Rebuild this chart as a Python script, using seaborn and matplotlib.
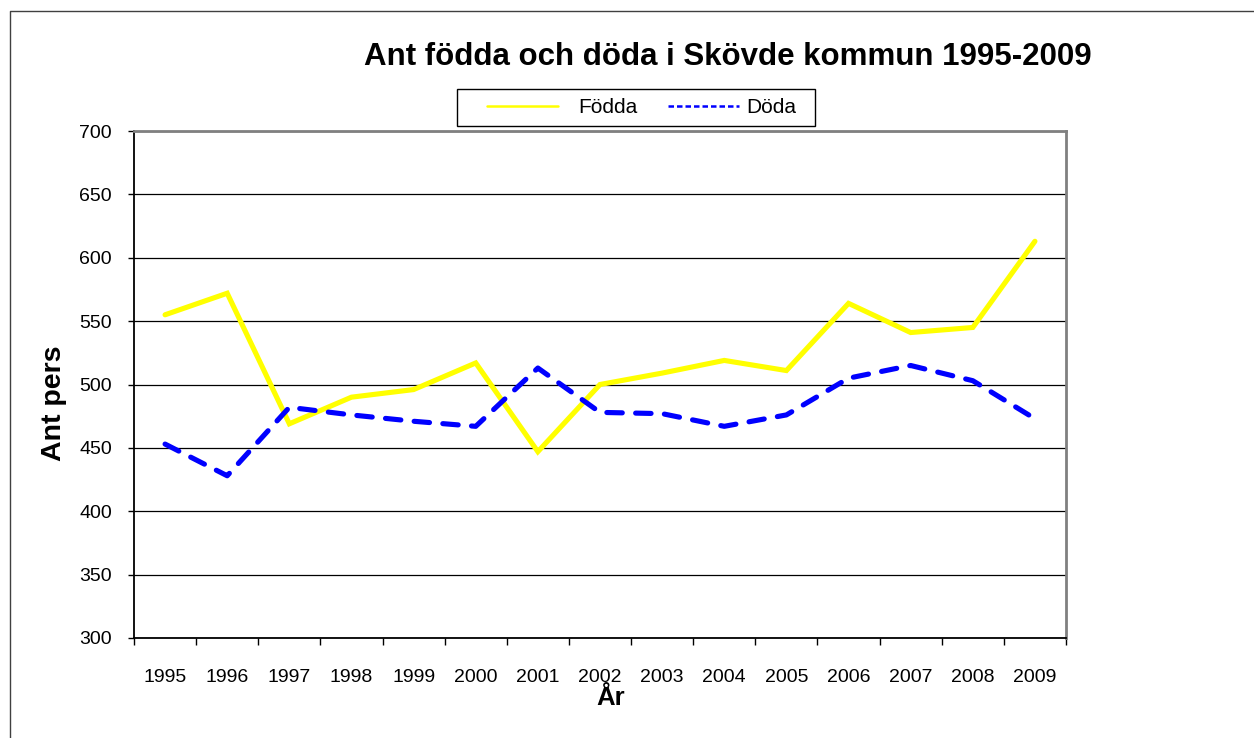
import matplotlib
matplotlib.use("Agg")
import matplotlib.pyplot as plt
from matplotlib.lines import Line2D
from matplotlib.patches import Rectangle
import seaborn as sns
import pandas as pd

years = ["1995", "1996", "1997", "1998", "1999", "2000", "2001", "2002",
         "2003", "2004", "2005", "2006", "2007", "2008", "2009"]
fodda = [555, 572, 469, 490, 496, 517, 447, 500, 509, 519, 511, 564, 541, 545, 613]
doda = [453, 428, 482, 476, 471, 467, 513, 478, 477, 467, 476, 505, 515, 503, 473]
series_names = ["Födda", "Döda"]
yticks = [300, 350, 400, 450, 500, 550, 600, 650, 700]

title = "Ant födda och döda i Skövde kommun 1995-2009"
xlabel = "År"
ylabel = "Ant pers"

df = pd.DataFrame({
    "År": years * 2,
    "Antal": fodda + doda,
    "Serie": [series_names[0]] * len(years) + [series_names[1]] * len(years),
})

sns.set_theme(style="white")
plt.rcParams["font.family"] = ["Liberation Sans", "DejaVu Sans"]

W, H = 1254, 738
fig = plt.figure(figsize=(W / 100, H / 100), dpi=100)
fig.patch.set_facecolor("white")

# outer chart border
fig.add_artist(Line2D([10 / W, 10 / W, 1.0], [0.0, 1 - 11 / H, 1 - 11 / H],
                      transform=fig.transFigure, color="#404040", lw=1.0))

ax = fig.add_axes([134 / W, 1 - 638 / H, 932 / W, 507 / H])
ax.set_facecolor("white")

palette = {"Födda": "#FFFF00", "Döda": "#0000FF"}
dashes = {"Födda": "", "Döda": (3.0, 2.6)}
sns.lineplot(data=df, x="År", y="Antal", hue="Serie", style="Serie",
             palette=palette, dashes=dashes, linewidth=3.7, sort=False,
             legend=False, ax=ax, zorder=3)
for ln in ax.get_lines():
    ln.set_dash_capstyle("round")
    ln.set_solid_capstyle("round")
    ln.set_solid_joinstyle("miter")

n = len(years)
ax.set_xlim(-0.5, n - 0.5)
ax.set_ylim(300, 700)

# y axis
ax.set_yticks(yticks)
ax.set_yticklabels([str(v) for v in yticks])
ax.tick_params(axis="y", which="major", direction="out", length=4, width=1,
               color="black", pad=12, labelsize=14, labelcolor="#000000", left=True)
# x axis: ticks at category boundaries, labels at centres
ax.set_xticks([i - 0.5 for i in range(n + 1)])
ax.set_xticklabels([""] * (n + 1))
ax.set_xticks(list(range(n)), minor=True)
ax.set_xticklabels(years, minor=True)
ax.tick_params(axis="x", which="major", direction="out", length=5, width=1,
               color="black", bottom=True)
ax.tick_params(axis="x", which="minor", length=0, pad=22, labelsize=14,
               labelcolor="#000000", bottom=True)

# gridlines
ax.yaxis.grid(True, color="#000000", lw=0.9, zorder=1)
ax.xaxis.grid(False)
ax.set_axisbelow(True)

for s in ["left", "bottom"]:
    ax.spines[s].set_color("black")
    ax.spines[s].set_linewidth(1.3)
for s in ["top", "right"]:
    ax.spines[s].set_color("#808080")
    ax.spines[s].set_linewidth(2.0)
    ax.spines[s].set_visible(True)

ax.set_xlabel("")
ax.set_ylabel("")

fig.text(54 / W, 1 - 403 / H, ylabel, rotation=90, ha="center", va="center",
         fontsize=20.5, fontweight="bold", color="black")
fig.text(611 / W, 1 - 698 / H, xlabel, ha="center", va="center",
         fontsize=18.5, fontweight="bold", color="black")
fig.text(727.5 / W, 1 - 57 / H, title, ha="center", va="center",
         fontsize=22.5, fontweight="bold", color="black")

# legend box
fig.add_artist(Rectangle((457 / W, 1 - 126 / H), 358 / W, 37 / H,
                         transform=fig.transFigure, facecolor="white",
                         edgecolor="black", lw=1.0, zorder=4))
h1 = Line2D([], [], color=palette["Födda"], lw=1.8)
h2 = Line2D([], [], color=palette["Döda"], lw=1.8, ls=(0, (2.2, 1.2)))
leg1 = fig.legend([h1], [series_names[0]], loc="center left",
                  bbox_to_anchor=(487 / W, 1 - 107.5 / H), fontsize=15,
                  frameon=False, handlelength=3.4, handletextpad=1.0,
                  borderpad=0, borderaxespad=0)
leg2 = fig.legend([h2], [series_names[1]], loc="center left",
                  bbox_to_anchor=(668 / W, 1 - 107.5 / H), fontsize=15,
                  frameon=False, handlelength=3.4, handletextpad=0.35,
                  borderpad=0, borderaxespad=0)
for lg in (leg1, leg2):
    lg.set_zorder(5)
    for t in lg.get_texts():
        t.set_color("#000000")

fig.savefig("out.png", dpi=100, facecolor="white")
